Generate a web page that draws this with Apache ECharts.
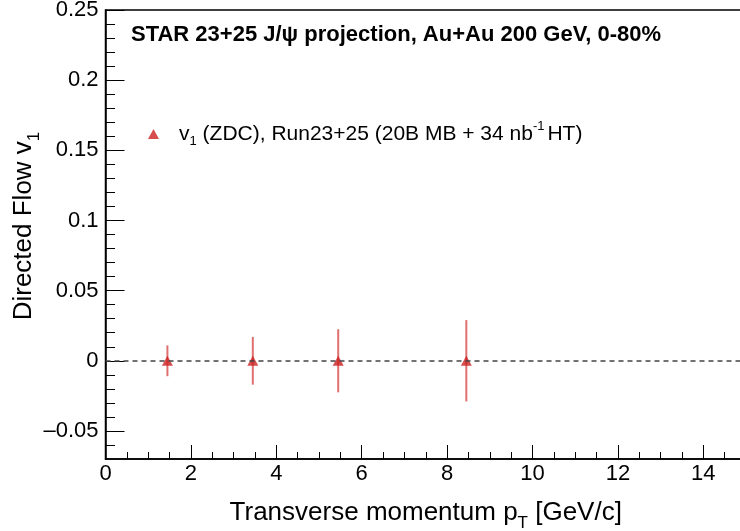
<!DOCTYPE html>
<html>
<head>
<meta charset="utf-8">
<script src="https://cdn.jsdelivr.net/npm/echarts@6/dist/echarts.min.js"></script>
<style>
  html, body { margin: 0; padding: 0; background: #fff; }
  #chart { width: 740px; height: 531px; }
</style>
</head>
<body>
<div id="chart"></div>
<script>
// J/psi v1 projection points
const ptValues = [1.45, 3.45, 5.45, 8.45];
const v1Values = [0, 0, 0, 0];
const v1Errors = [0.011, 0.017, 0.0225, 0.029];

// ticks
const xMajorTicks = [0, 2, 4, 6, 8, 10, 12, 14];
const xMinorTicks = [0.5, 1, 1.5, 2.5, 3, 3.5, 4.5, 5, 5.5, 6.5, 7, 7.5, 8.5, 9, 9.5,
  10.5, 11, 11.5, 12.5, 13, 13.5, 14.5];
const yMajorTicks = [-0.05, 0, 0.05, 0.1, 0.15, 0.2, 0.25];
const yMinorTicks = [-0.06, -0.04, -0.03, -0.02, -0.01, 0.01, 0.02, 0.03, 0.04,
  0.06, 0.07, 0.08, 0.09, 0.11, 0.12, 0.13, 0.14, 0.16, 0.17, 0.18, 0.19,
  0.21, 0.22, 0.23, 0.24];

const font = 'Liberation Sans';
const red = '#cc2020';

const points = ptValues.map((x, i) => [x, v1Values[i], v1Errors[i]]);

const myChart = echarts.init(document.getElementById('chart'));

const option = {
  animation: false,
  title: {
    text: 'STAR 23+25 J/\u03c8 projection, Au+Au 200 GeV, 0-80%',
    left: 126,
    top: 19,
    textStyle: { fontFamily: font, fontSize: 22, fontWeight: 'bold', color: '#000' }
  },
  legend: {
    left: 143,
    top: 115,
    itemWidth: 11,
    itemHeight: 10,
    itemGap: 0,
    data: [{ name: 'v1', icon: 'triangle' }],
    formatter: () => 'v{sub|1} (ZDC), Run23+25 (20B MB + 34 nb{sup|-1}HT)',
    textStyle: {
      fontFamily: font,
      fontSize: 21,
      color: '#000',
      padding: [0, 0, 0, 15],
      rich: {
        sub: { fontFamily: font, fontSize: 13, verticalAlign: 'bottom', lineHeight: 28 },
        sup: { fontFamily: font, fontSize: 13, verticalAlign: 'top', lineHeight: 28, padding: [0, 3, 0, 0] }
      }
    }
  },
  grid: {
    show: true,
    left: 105.5,
    top: 10,
    width: 640.5,
    height: 449,
    borderColor: '#000',
    borderWidth: 1.5,
    containLabel: false,
    outerBoundsMode: 'none'
  },
  xAxis: [
    {
      type: 'value',
      min: 0,
      max: 15,
      position: 'bottom',
      axisLine: { show: true, onZero: false, lineStyle: { color: '#000', width: 1.5 } },
      axisTick: { inside: true, length: 14, customValues: xMajorTicks, lineStyle: { color: '#000', width: 1 } },
      axisLabel: { customValues: xMajorTicks, margin: 4, fontFamily: font, fontSize: 22, color: '#000' },
      splitLine: { show: false },
      name: '{a|Transverse momentum p}{s|T}{a| [GeV/c]}',
      nameLocation: 'middle',
      nameGap: 35,
      nameTextStyle: {
        rich: {
          a: { fontFamily: font, fontSize: 26, color: '#000', lineHeight: 38 },
          s: { fontFamily: font, fontSize: 17, color: '#000', verticalAlign: 'bottom', lineHeight: 38 }
        }
      }
    },
    {
      type: 'value',
      min: 0,
      max: 15,
      position: 'bottom',
      axisLine: { show: false, onZero: false },
      axisTick: { inside: true, length: 7, customValues: xMinorTicks, lineStyle: { color: '#000', width: 1 } },
      axisLabel: { show: false },
      splitLine: { show: false }
    }
  ],
  yAxis: [
    {
      type: 'value',
      min: -0.07,
      max: 0.25,
      position: 'left',
      axisLine: { show: true, onZero: false, lineStyle: { color: '#000', width: 1.5 } },
      axisTick: { inside: true, length: 19, customValues: yMajorTicks, lineStyle: { color: '#000', width: 1 } },
      axisLabel: {
        customValues: yMajorTicks,
        margin: 7,
        fontFamily: font,
        fontSize: 22,
        color: '#000',
        formatter: v => (v < 0 ? '\u2013' + String(Math.abs(v)) : String(v))
      },
      splitLine: { show: false }
    },
    {
      type: 'value',
      min: -0.07,
      max: 0.25,
      position: 'left',
      axisLine: { show: false, onZero: false },
      axisTick: { inside: true, length: 9.5, customValues: yMinorTicks, lineStyle: { color: '#000', width: 1 } },
      axisLabel: { show: false },
      splitLine: { show: false }
    }
  ],
  graphic: [
    {
      type: 'text',
      x: 24,
      y: 226,
      rotation: Math.PI / 2,
      style: {
        text: '{a|Directed Flow v}{s|1}',
        align: 'center',
        verticalAlign: 'middle',
        rich: {
          a: { fontFamily: font, fontSize: 26, fill: '#000', lineHeight: 38 },
          s: { fontFamily: font, fontSize: 17, fill: '#000', verticalAlign: 'bottom', lineHeight: 38 }
        }
      }
    }
  ],
  series: [
    {
      type: 'custom',
      name: 'errors',
      xAxisIndex: 0,
      yAxisIndex: 0,
      data: points,
      z: 3,
      renderItem: (params, api) => {
        const x = api.value(0);
        const y = api.value(1);
        const e = api.value(2);
        const lo = api.coord([x, y - e]);
        const hi = api.coord([x, y + e]);
        return {
          type: 'line',
          shape: { x1: lo[0], y1: lo[1], x2: hi[0], y2: hi[1] },
          style: { stroke: '#e07070', lineWidth: 2 }
        };
      }
    },
    {
      type: 'scatter',
      name: 'v1',
      xAxisIndex: 0,
      yAxisIndex: 0,
      symbol: 'triangle',
      symbolSize: [11, 10],
      data: points.map(p => [p[0], p[1]]),
      itemStyle: { color: red },
      z: 4,
      markLine: {
        silent: true,
        symbol: 'none',
        label: { show: false },
        lineStyle: { color: '#444', width: 1.5, type: [5, 4] },
        data: [{ yAxis: 0 }]
      }
    }
  ]
};

myChart.setOption(option);
window.addEventListener('resize', () => {
  myChart.resize();
});
</script>
</body>
</html>
